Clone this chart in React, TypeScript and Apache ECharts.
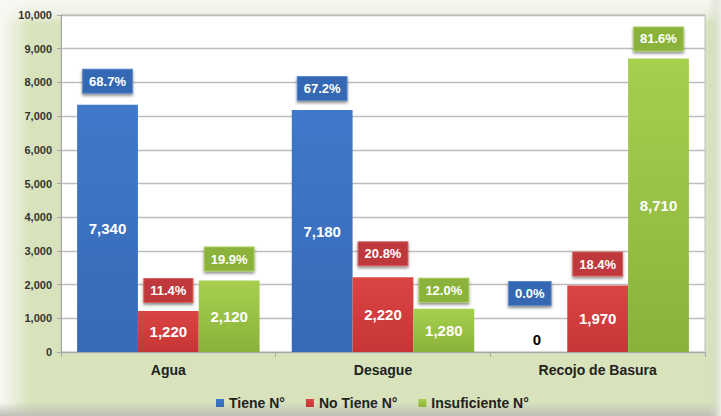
import React, { useEffect, useRef } from "react";
import * as echarts from "echarts";

const categories = ["Agua", "Desague", "Recojo de Basura"];
const seriesNames = ["Tiene N°", "No Tiene N°", "Insuficiente N°"];
const tieneValues = [7340, 7180, 0];
const noTieneValues = [1220, 2220, 1970];
const insufValues = [2120, 1280, 8710];
const tienePct = ["68.7%", "67.2%", "0.0%"];
const noTienePct = ["11.4%", "20.8%", "18.4%"];
const insufPct = ["19.9%", "12.0%", "81.6%"];
const yTicks = [0, 1000, 2000, 3000, 4000, 5000, 6000, 7000, 8000, 9000, 10000];

// layout tweaks for the percentage boxes (distance above bar top, x offset)
const pctDistance = [
  [12, 10, 47],
  [9, 12, 10],
  [10, 7, 8],
];
const pctOffsetX = [
  [0, 0, -7],
  [0, 0, 0],
  [0, 0, 0],
];

const FONT = "'Liberation Sans', Arial, sans-serif";

const vgrad = (top: string, bottom: string) =>
  new echarts.graphic.LinearGradient(0, 0, 0, 1, [
    { offset: 0, color: top },
    { offset: 1, color: bottom },
  ]);

const barColors = [
  vgrad("#4079CA", "#3769B5"),
  vgrad("#DA4543", "#C63535"),
  vgrad("#A7CF4E", "#8AB23A"),
];
const boxColors = ["#3668B3", "#BF383A", "#8BB23B"];
const boxBorders = ["#5A8AD0", "#D86060", "#A8CC5C"];

export default function App() {
  const ref = useRef<HTMLDivElement>(null);

  useEffect(() => {
    document.body.style.margin = "0";
    if (!ref.current) return;
    const chart = echarts.init(ref.current, undefined, { renderer: "svg" });
    const valueSets = [tieneValues, noTieneValues, insufValues];
    const pctSets = [tienePct, noTienePct, insufPct];

    const valueSeries = valueSets.map((vals, si) => ({
      name: seriesNames[si],
      type: "bar",
      xAxisIndex: 0,
      barGap: "0%",
      barCategoryGap: "15%",
      itemStyle: { color: barColors[si] },
      label: {
        show: true,
        position: "inside",
        color: "#fff",
        fontFamily: FONT,
        fontSize: 15,
        fontWeight: "bold",
        formatter: (p: any) => Number(p.value).toLocaleString("en-US"),
      },
      data: vals.map((v) =>
        v === 0
          ? {
              value: v,
              label: { position: "top", distance: 5, color: "#000" },
            }
          : { value: v }
      ),
    }));

    const pctSeries = valueSets.map((vals, si) => ({
      name: seriesNames[si] + " %",
      type: "bar",
      xAxisIndex: 1,
      barGap: "0%",
      barCategoryGap: "15%",
      silent: true,
      itemStyle: { color: "rgba(0,0,0,0)" },
      label: {
        show: true,
        position: "top",
        color: "#fff",
        fontFamily: FONT,
        fontSize: 13,
        fontWeight: "bold",
        lineHeight: 13,
        padding: [5, 6, 5, 6],
        backgroundColor: boxColors[si],
        borderColor: boxBorders[si],
        borderWidth: 1,
        shadowBlur: 3,
        shadowOffsetY: 2,
        shadowColor: "rgba(0,0,0,0.45)",
        formatter: (p: any) => pctSets[si][p.dataIndex],
      },
      data: vals.map((v, ci) => ({
        value: v,
        label: {
          distance: pctDistance[si][ci],
          offset: [pctOffsetX[si][ci], 0],
        },
      })),
    }));

    chart.setOption({
      animation: false,
      backgroundColor: "#D8E3BC",
      graphic: [
        {
          type: "rect",
          z: -10,
          shape: { x: 0, y: 0, width: 721, height: 24 },
          style: {
            fill: new echarts.graphic.LinearGradient(0, 0, 0, 1, [
              { offset: 0, color: "rgba(246,247,242,1)" },
              { offset: 0.55, color: "rgba(240,243,232,0.9)" },
              { offset: 1, color: "rgba(240,243,232,0)" },
            ]),
          },
        },
        {
          type: "rect",
          z: -10,
          shape: { x: 0, y: 0, width: 30, height: 416 },
          style: {
            fill: new echarts.graphic.LinearGradient(0, 0, 1, 0, [
              { offset: 0, color: "rgba(248,249,245,1)" },
              { offset: 1, color: "rgba(248,249,245,0)" },
            ]),
          },
        },
        {
          type: "rect",
          z: -10,
          shape: { x: 0, y: 402, width: 721, height: 14 },
          style: {
            fill: new echarts.graphic.LinearGradient(0, 0, 0, 1, [
              { offset: 0, color: "rgba(190,192,182,0)" },
              { offset: 1, color: "rgba(190,192,182,1)" },
            ]),
          },
        },
        {
          type: "rect",
          z: -10,
          shape: { x: 708, y: 0, width: 13, height: 416 },
          style: {
            fill: new echarts.graphic.LinearGradient(0, 0, 1, 0, [
              { offset: 0, color: "rgba(200,208,185,0)" },
              { offset: 1, color: "rgba(235,238,228,1)" },
            ]),
          },
        },
      ],
      grid: {
        left: 61,
        right: 16,
        top: 15,
        bottom: 64,
        show: true,
        backgroundColor: "#FFFFFF",
        borderColor: "#BFBFBF",
        borderWidth: 1,
      },
      legend: {
        data: seriesNames,
        left: 211,
        top: 391,
        icon: "rect",
        itemWidth: 8,
        itemHeight: 8,
        itemGap: 21,
        textStyle: {
          fontFamily: FONT,
          fontSize: 14,
          fontWeight: "bold",
          color: "#222",
        },
      },
      xAxis: [
        {
          type: "category",
          data: categories,
          axisLine: { lineStyle: { color: "#A6A6A6" } },
          axisTick: { show: true, length: 5, lineStyle: { color: "#A6A6A6" } },
          axisLabel: {
            margin: 11,
            fontFamily: FONT,
            fontSize: 14,
            fontWeight: "bold",
            color: "#222",
          },
        },
        {
          type: "category",
          data: categories,
          show: false,
        },
      ],
      yAxis: {
        type: "value",
        min: yTicks[0],
        max: yTicks[yTicks.length - 1],
        interval: yTicks[1] - yTicks[0],
        axisLine: { show: true, lineStyle: { color: "#A6A6A6" } },
        axisTick: { show: true, length: 4, lineStyle: { color: "#A6A6A6" } },
        splitLine: { lineStyle: { color: "#BDBDBD", width: 1.3 } },
        axisLabel: {
          margin: 9,
          fontFamily: FONT,
          fontSize: 11,
          fontWeight: "bold",
          color: "#333",
          formatter: (v: number) => v.toLocaleString("en-US"),
        },
      },
      series: [...valueSeries, ...pctSeries],
    });
    return () => chart.dispose();
  }, []);

  return <div ref={ref} style={{ width: 721, height: 416 }} />;
}
